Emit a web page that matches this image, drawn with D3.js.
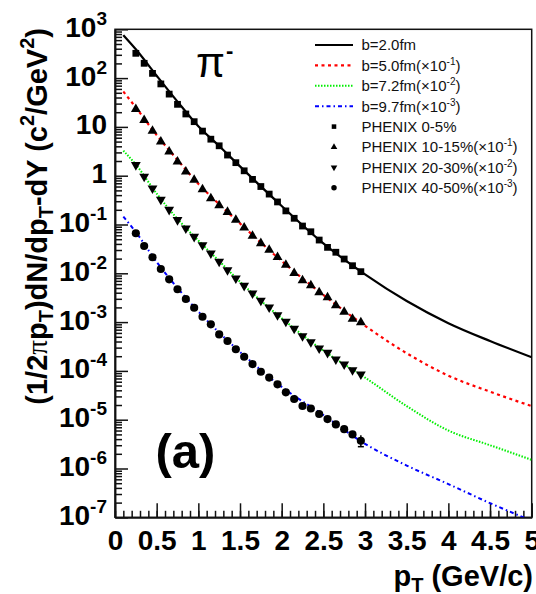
<!DOCTYPE html>
<html>
<head>
<meta charset="utf-8">
<script src="https://cdnjs.cloudflare.com/ajax/libs/d3/7.8.5/d3.min.js"></script>
<style>
body { margin: 0; background: #fff; }
text { font-family: "Liberation Sans", Arial, sans-serif; }
</style>
</head>
<body>
<div id="chart"></div>
<script>
// PHENIX data points (already scaled as plotted)
var ptData = [0.25, 0.35, 0.45, 0.55, 0.65, 0.75, 0.85, 0.95, 1.05, 1.15, 1.25, 1.35, 1.45, 1.55,
    1.65, 1.75, 1.85, 1.95, 2.05, 2.15, 2.25, 2.35, 2.45, 2.55, 2.65, 2.75, 2.85, 2.95];
var phenix0_5 = [322, 201, 125, 76, 47, 29, 18.4, 12.8, 8.2, 5.6, 4.1, 2.65, 1.85, 1.26,
    0.84, 0.60, 0.42, 0.29, 0.19, 0.134, 0.093, 0.071, 0.048, 0.034, 0.027, 0.0196, 0.0143, 0.0108];
var phenix10_15 = [23.0, 13.8, 8.24, 4.97, 3.10, 1.94, 1.21, 0.816, 0.526, 0.344, 0.247, 0.180, 0.124, 0.0859,
    0.0581, 0.0412, 0.030, 0.0213, 0.0148, 0.0101, 7.11e-3, 5.62e-3, 4.04e-3, 3.19e-3, 2.19e-3, 1.61e-3, 1.16e-3, 9.9e-4];
var phenix20_30 = [1.66, 0.955, 0.552, 0.325, 0.201, 0.124, 0.0836, 0.0562, 0.0380, 0.0257, 0.0173, 0.0117, 7.91e-3, 5.57e-3,
    3.89e-3, 2.75e-3, 2.01e-3, 1.40e-3, 1.02e-3, 7.4e-4, 5.19e-4, 3.91e-4, 2.90e-4, 2.36e-4, 1.73e-4, 1.36e-4, 1.04e-4, 8.5e-5];
var phenix40_50 = [0.0661, 0.0362, 0.0213, 0.01225, 7.53e-3, 4.7e-3, 2.97e-3, 1.97e-3, 1.29e-3, 9.0e-4, 5.6e-4, 4.1e-4, 2.77e-4, 1.95e-4,
    1.38e-4, 9.6e-5, 7.3e-5, 5.3e-5, 3.64e-5, 2.65e-5, 1.91e-5, 1.70e-5, 1.31e-5, 1.03e-5, 8.0e-6, 6.4e-6, 5.0e-6, 3.7e-6];
// error bar visible on last 40-50% point
var errPt = 2.95, errLo = 2.8e-6, errHi = 4.8e-6;

// hydro curves
var ptCurve = [0.1, 0.25, 0.5, 0.75, 1.0, 1.25, 1.5, 2.0, 2.5, 3.0, 3.5, 4.0, 4.5, 5.0];
var curveB20 = [760, 390, 112, 33, 10.3, 4.05, 1.55, 0.24, 0.041, 9.5e-3, 2.7e-3, 9.5e-4, 4.1e-4, 1.9e-4];
var curveB50 = [53, 25, 6.8, 2.1, 0.68, 0.26, 0.105, 0.0178, 3.6e-3, 8.4e-4, 2.3e-4, 8.0e-5, 3.75e-5, 1.9e-5];
var curveB72 = [3.25, 1.7, 0.43, 0.13, 0.047, 0.0178, 6.7e-3, 1.2e-3, 2.6e-4, 7.3e-5, 1.9e-5, 6.0e-6, 3.0e-6, 1.5e-6];
var curveB97 = [0.145, 0.07, 0.017, 5.0e-3, 1.65e-3, 6.1e-4, 2.45e-4, 4.7e-5, 1.25e-5, 3.2e-6, 1.15e-6, 4.8e-7, 1.95e-7, 8.5e-8];

var xTicks = [0, 0.5, 1, 1.5, 2, 2.5, 3, 3.5, 4, 4.5, 5];
var yTicks = [1e-7, 1e-6, 1e-5, 1e-4, 1e-3, 1e-2, 1e-1, 1, 10, 100, 1000];

var svgWidth = 536, svgHeight = 594;
var margin = {top: 29.3, left: 115, right: 4.3, bottom: 76.7};
var width = svgWidth - margin.left - margin.right;
var height = svgHeight - margin.top - margin.bottom;

var svg = d3.select("#chart").append("svg").attr("width", svgWidth).attr("height", svgHeight);
var chartGroup = svg.append("g").attr("transform", `translate(${margin.left},${margin.top})`);

var xScale = d3.scaleLinear().domain([0, 5]).range([0, width]);
var yScale = d3.scaleLog().domain([1e-7, 1e3]).range([height, 0]);

svg.append("defs").append("clipPath").attr("id", "plotclip")
    .append("rect").attr("width", width).attr("height", height);

// minor ticks
var yMinor = [];
yTicks.slice(0, -1).forEach(function(t){ for (var k = 2; k <= 9; k++) yMinor.push(t * k); });
var xMinor = d3.range(0, 51).map(d => d / 10);

chartGroup.append("g").call(d3.axisLeft(yScale).tickValues(yMinor).tickSizeInner(-7).tickSizeOuter(0).tickFormat(""));
chartGroup.append("g").attr("transform", `translate(0,${height})`)
    .call(d3.axisBottom(xScale).tickValues(xMinor).tickSizeInner(-6.5).tickSizeOuter(0).tickFormat(""));

var leftAxis = d3.axisLeft(yScale).tickValues(yTicks).tickSizeInner(-13).tickSizeOuter(0).tickPadding(8).tickFormat("");
var bottomAxis = d3.axisBottom(xScale).tickValues(xTicks).tickSizeInner(-14).tickSizeOuter(0).tickPadding(13).tickFormat(d3.format("~g"));

var yAxisG = chartGroup.append("g").call(leftAxis);
var xAxisG = chartGroup.append("g").attr("transform", `translate(0,${height})`).call(bottomAxis);

chartGroup.selectAll(".domain, .tick line").attr("stroke", "#111").attr("stroke-width", 1.5);

xAxisG.selectAll(".tick text").attr("font-size", "28px").attr("font-weight", "bold").attr("fill", "#000");

yAxisG.selectAll(".tick text").each(function(d){
    var e = Math.round(Math.log10(d));
    var t = d3.select(this).attr("font-size", "28px").attr("font-weight", "bold").attr("fill", "#000").attr("dy", "0.25em");
    if (e === 0) { t.text("1"); return; }
    if (e === 1) { t.text("10"); return; }
    t.append("tspan").text("10");
    t.append("tspan").attr("font-size", "19px").attr("dy", -12).text(e);
});

// frame
chartGroup.append("rect").attr("width", width).attr("height", height)
    .attr("fill", "none").attr("stroke", "#111").attr("stroke-width", 1.5);

// curves
var line = d3.line().x(d => xScale(d[0])).y(d => yScale(d[1])).curve(d3.curveMonotoneX);
var curves = [
    {vals: curveB20, color: "#000", dash: null, w: 2.2},
    {vals: curveB50, color: "#ff0000", dash: "3,3.5", w: 2.2},
    {vals: curveB72, color: "#00ee00", dash: "1.5,1.5", w: 2},
    {vals: curveB97, color: "#0000ff", dash: "4,3,1.5,3", w: 2}
];
var curveG = chartGroup.append("g").attr("clip-path", "url(#plotclip)");
curves.forEach(function(c){
    curveG.append("path").attr("d", line(ptCurve.map((p, i) => [p, c.vals[i]])))
        .attr("fill", "none").attr("stroke", c.color).attr("stroke-width", c.w)
        .attr("stroke-dasharray", c.dash);
});

// data markers
var sets = [
    {vals: phenix0_5, sym: d3.symbolSquare, size: 46, rot: 0},
    {vals: phenix10_15, sym: d3.symbolTriangle, size: 42, rot: 0},
    {vals: phenix20_30, sym: d3.symbolTriangle, size: 42, rot: 180},
    {vals: phenix40_50, sym: d3.symbolCircle, size: 52, rot: 0}
];

chartGroup.append("line")
    .attr("x1", xScale(errPt)).attr("x2", xScale(errPt))
    .attr("y1", yScale(errLo)).attr("y2", yScale(errHi))
    .attr("stroke", "#000").attr("stroke-width", 1.5);
chartGroup.append("line")
    .attr("x1", xScale(errPt) - 3).attr("x2", xScale(errPt) + 3)
    .attr("y1", yScale(errLo)).attr("y2", yScale(errLo))
    .attr("stroke", "#000").attr("stroke-width", 1.5);

sets.forEach(function(s){
    chartGroup.append("g").selectAll("path").data(ptData).enter().append("path")
        .attr("d", d3.symbol().type(s.sym).size(s.size))
        .attr("transform", (d, i) => `translate(${xScale(d)},${yScale(s.vals[i])}) rotate(${s.rot})`)
        .attr("fill", "#000");
});

// legend
var legendLabels = [
    ["b=2.0fm", null], ["b=5.0fm(\u00d710", "-1"], ["b=7.2fm(\u00d710", "-2"], ["b=9.7fm(\u00d710", "-3"],
    ["PHENIX 0-5%", null], ["PHENIX 10-15%(\u00d710", "-1"], ["PHENIX 20-30%(\u00d710", "-2"], ["PHENIX 40-50%(\u00d710", "-3"]
];
var legendG = svg.append("g");
legendLabels.forEach(function(lab, i){
    var cy = 45 + i * 20.4;
    if (i < 4) {
        var c = curves[i];
        legendG.append("line").attr("x1", 315).attr("x2", 353).attr("y1", cy).attr("y2", cy)
            .attr("stroke", c.color).attr("stroke-width", c.w).attr("stroke-dasharray", c.dash);
    } else {
        var s = sets[i - 4];
        legendG.append("path").attr("d", d3.symbol().type(s.sym).size(s.size * 0.45))
            .attr("transform", `translate(334,${cy}) rotate(${s.rot})`).attr("fill", "#000");
    }
    var t = legendG.append("text").attr("x", 361.5).attr("y", cy + 5.3).attr("font-size", "15px").attr("fill", "#111");
    t.append("tspan").text(lab[0]);
    if (lab[1]) {
        t.append("tspan").attr("font-size", "10px").attr("dy", -6).text(lab[1]);
        t.append("tspan").attr("dy", 6).text(")");
    }
});

// pi- label
var piLabel = svg.append("text").attr("x", 196).attr("y", 77).attr("font-family", "'Liberation Serif', serif")
    .attr("font-size", "42px");
piLabel.append("tspan").text("\u03c0");
piLabel.append("tspan").attr("font-family", "'Liberation Sans', Arial, sans-serif").attr("font-weight", "bold")
    .attr("font-size", "22px").attr("dx", 1).attr("dy", -19).text("-");

// (a)
svg.append("text").attr("x", 155.5).attr("y", 468).attr("font-size", "49px").attr("font-weight", "bold").text("(a)");

// x title
var xt = svg.append("text").attr("x", 533).attr("y", 586).attr("text-anchor", "end")
    .attr("font-size", "29px").attr("font-weight", "bold");
xt.append("tspan").text("p");
xt.append("tspan").attr("font-size", "20px").attr("dy", 6).text("T");
xt.append("tspan").attr("dy", -6).text(" (GeV/c)");

// y title
var yt = svg.append("text").attr("transform", "translate(47,28) rotate(-90)").attr("text-anchor", "end")
    .attr("font-size", "29px").attr("font-weight", "bold");
yt.append("tspan").text("(1/2");
yt.append("tspan").attr("font-weight", "normal").attr("font-family", "'Liberation Serif', serif").text("\u03c0");
yt.append("tspan").text("p");
yt.append("tspan").attr("font-size", "20px").attr("dy", 6).text("T");
yt.append("tspan").attr("dy", -6).text(")dN/dp");
yt.append("tspan").attr("font-size", "20px").attr("dy", 6).text("T");
yt.append("tspan").attr("dy", -6).text("-dY (c");
yt.append("tspan").attr("font-size", "20px").attr("dy", -13).text("2");
yt.append("tspan").attr("dy", 13).text("/GeV");
yt.append("tspan").attr("font-size", "20px").attr("dy", -13).text("2");
yt.append("tspan").attr("dy", 13).text(")");
</script>
</body>
</html>
